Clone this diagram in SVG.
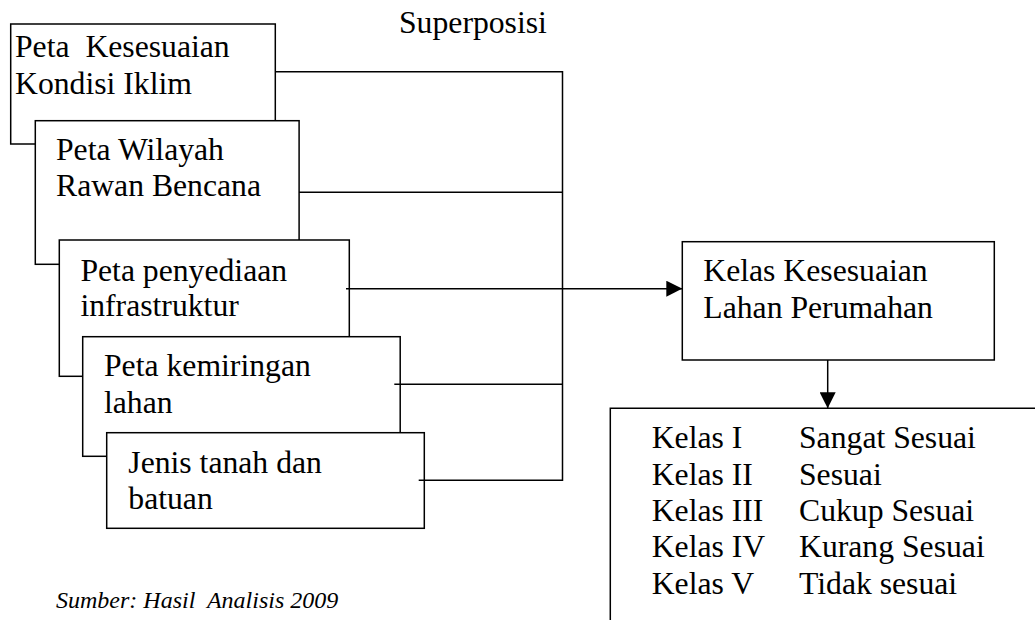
<svg xmlns="http://www.w3.org/2000/svg" width="1035" height="620" viewBox="0 0 1035 620">
<defs>
<style>
.box{fill:#fff;stroke:#000;stroke-width:1.5}
.t{font-family:"Liberation Serif","Times New Roman",serif;font-size:31.7px;fill:#000}
.src{font-family:"Liberation Serif","Times New Roman",serif;font-size:24px;font-style:italic;fill:#000}
.ln{fill:none;stroke:#000;stroke-width:1.5}
</style>
<marker id="ah" viewBox="0 0 16 16" refX="16" refY="8" markerWidth="16" markerHeight="16" markerUnits="userSpaceOnUse" orient="auto">
<path d="M0,0 L16,8 L0,16 Z" fill="#000"/>
</marker>
</defs>
<rect width="1035" height="620" fill="#fff"/>
<text class="t" x="399" y="33.3">Superposisi</text>
<g id="node-iklim">
<rect class="box" x="10.7" y="24" width="264.6" height="120"/>
<text class="t" x="15" y="57.3" xml:space="preserve">Peta  Kesesuaian</text>
<text class="t" x="15" y="93.5">Kondisi Iklim</text>
</g>
<g id="node-bencana">
<rect class="box" x="35.3" y="120.7" width="263.8" height="143.6"/>
<text class="t" x="56" y="160">Peta Wilayah</text>
<text class="t" x="56" y="196">Rawan Bencana</text>
</g>
<g id="node-infra">
<rect class="box" x="59.3" y="240" width="290" height="136.3"/>
<text class="t" x="80.4" y="280.7">Peta penyediaan</text>
<text class="t" x="80.4" y="316">infrastruktur</text>
</g>
<g id="node-lereng">
<rect class="box" x="82.7" y="336.7" width="317.5" height="119.6"/>
<text class="t" x="104" y="376">Peta kemiringan</text>
<text class="t" x="104" y="413">lahan</text>
</g>
<g id="node-tanah">
<rect class="box" x="106.7" y="432.7" width="317.6" height="95.6"/>
<text class="t" x="128.3" y="473">Jenis tanah dan</text>
<text class="t" x="128.3" y="509">batuan</text>
</g>
<g id="node-kelas">
<rect class="box" x="682.3" y="241.7" width="312" height="118.3"/>
<text class="t" x="703.3" y="281">Kelas Kesesuaian</text>
<text class="t" x="703.3" y="318">Lahan Perumahan</text>
</g>
<g id="node-hasil">
<path class="ln" d="M610.3,625 V408.3 H1040"/>
<text class="t" x="651.7" y="448.3">Kelas I</text>
<text class="t" x="799" y="448.3">Sangat Sesuai</text>
<text class="t" x="651.7" y="484.5">Kelas II</text>
<text class="t" x="799" y="484.5">Sesuai</text>
<text class="t" x="651.7" y="520.7">Kelas III</text>
<text class="t" x="799" y="520.7">Cukup Sesuai</text>
<text class="t" x="651.7" y="557">Kelas IV</text>
<text class="t" x="799" y="557">Kurang Sesuai</text>
<text class="t" x="651.7" y="594">Kelas V</text>
<text class="t" x="799" y="594">Tidak sesuai</text>
</g>
<g id="connectors">
<path class="ln" d="M275.3,71.7 H562.5 V480.3 H418.7"/>
<path class="ln" d="M299,192.3 H562.5"/>
<path class="ln" d="M394.3,384.3 H562.5"/>
<path class="ln" d="M346,288.7 H682.3" marker-end="url(#ah)"/>
<path class="ln" d="M827.7,360 V408.3" marker-end="url(#ah)"/>
</g>
<text class="src" x="56" y="608.3" xml:space="preserve">Sumber: Hasil  Analisis 2009</text>
</svg>
